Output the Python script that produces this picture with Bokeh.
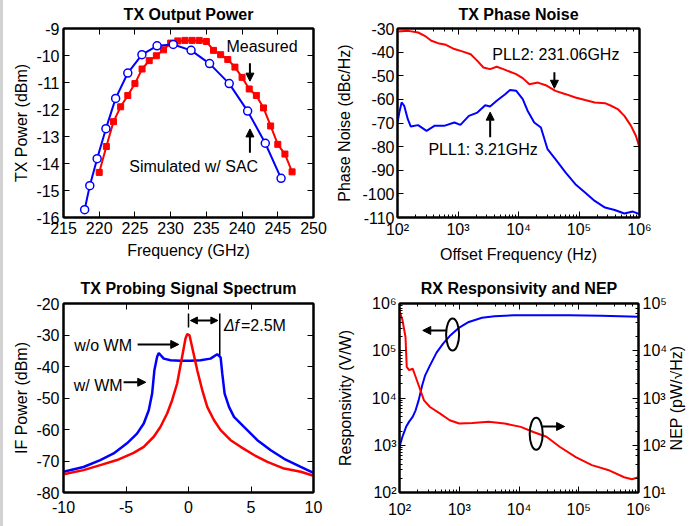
import math
from bokeh.plotting import figure
from bokeh.layouts import column, row
from bokeh.models import (Range1d, LinearAxis, LogAxis, FixedTicker, LogTicker, Label,
                          Arrow, NormalHead, CustomJSTickFormatter, LogScale)
from bokeh.embed import file_html
from bokeh.resources import INLINE

# ---------------- data ----------------
# TX output power
sim_freq = [217.96, 218.68, 219.71, 220.94, 222.30, 224.0, 225.98, 228.1, 230.36,
            232.86, 235.45, 238.2, 240.78, 243.25, 245.46]
sim_power = [-15.71, -14.82, -13.82, -12.71, -11.59, -10.65, -9.97, -9.64, -9.59,
             -9.81, -10.30, -11.04, -12.06, -13.25, -14.55]
meas_freq = [220, 221, 222, 223, 224, 225, 226, 227, 228, 229, 230, 231, 232, 233,
             234, 235, 236, 237, 238, 239, 240, 241, 242, 243, 244, 245, 246, 247]
meas_power = [-14.33, -13.37, -12.45, -11.90, -11.48, -11.04, -10.50, -10.19, -10.01,
              -9.79, -9.54, -9.46, -9.44, -9.44, -9.44, -9.48, -9.81, -9.97, -10.15,
              -10.43, -10.81, -11.24, -11.48, -11.94, -12.61, -13.29, -13.65, -14.31]
p1_xticks = [215, 220, 225, 230, 235, 240, 245, 250]
p1_yticks = [-16, -15, -14, -13, -12, -11, -10, -9]

# TX phase noise
pll2_off = [100, 151, 219, 282, 363, 468, 631, 871, 1175, 1622, 2089, 2630, 3388,
            4365, 5623, 7244, 9120, 11750, 15140, 20890, 28180, 40740, 60260, 87100,
            125900, 182000, 269200, 338800, 436500, 562300, 724400, 871000, 1000000]
pll2_pn = [-31.3, -31.0, -31.7, -33.1, -35.2, -36.2, -36.9, -38.7, -39.7, -40.9,
           -43.7, -46.5, -47.2, -46.2, -47.2, -48.3, -49.3, -51.0, -53.6, -52.9,
           -54.0, -56.4, -57.8, -59.2, -60.3, -61.3, -61.6, -62.7, -64.1, -67.0,
           -71.2, -75.4, -80.4]
pll1_off = [100, 107, 117, 129, 148, 166, 219, 302, 407, 589, 871, 1096, 1514, 2089,
            2818, 3388, 4365, 6026, 7244, 9120, 11750, 14125, 18197, 23442, 30200,
            40738, 60256, 87096, 125893, 181970, 269153, 389045, 562341, 776247, 1000000]
pll1_pn = [-69.8, -65.6, -61.3, -62.7, -68.4, -71.5, -70.9, -73.3, -71.2, -71.2,
           -69.8, -70.8, -67.0, -65.6, -62.5, -63.0, -60.6, -57.8, -56.0, -56.3,
           -59.9, -64.8, -69.8, -71.9, -81.1, -85.3, -91.0, -95.9, -99.4, -103.0,
           -105.8, -106.8, -108.3, -107.5, -108.6]
p2_yticks = [-110, -100, -90, -80, -70, -60, -50, -40, -30]

# TX probing signal spectrum
nowm_f = [-10, -8.4, -7.06, -5.72, -4.39, -3.58, -2.78, -2.25, -1.71, -1.31, -0.91,
          -0.51, -0.24, -0.1, 0.08, 0.29, 0.7, 1.1, 1.5, 2.03, 2.57, 3.37, 4.17, 5.24,
          6.31, 7.65, 8.98, 10]
nowm_p = [-74.2, -72.9, -71.3, -69.7, -67.4, -65.5, -62.3, -59.2, -54.9, -50.7, -45.4,
          -36.9, -31.1, -29.7, -30.1, -33.8, -41.2, -47.5, -52.8, -57.0, -60.2, -63.4,
          -65.5, -68.1, -70.3, -72.4, -73.4, -74.7]
wm_f = [-10, -8.4, -7.06, -5.99, -4.92, -4.12, -3.58, -3.18, -2.91, -2.73, -2.51, -2.38,
        -1.98, -1.44, -0.64, 0.16, 0.96, 1.76, 2.3, 2.57, 2.7, 2.89, 3.24, 3.64, 4.44,
        5.51, 6.58, 7.65, 8.98, 10]
wm_p = [-73.4, -71.9, -69.7, -67.6, -64.4, -61.3, -58.1, -53.9, -48.6, -41.2, -36.9,
        -35.7, -37.5, -38.0, -38.2, -38.2, -38.0, -37.5, -36.1, -37.1, -42.2, -48.6,
        -52.8, -56.0, -59.2, -63.4, -66.6, -69.3, -71.9, -73.8]
p3_xticks = [-10, -5, 0, 5, 10]
p3_yticks = [-80, -70, -60, -50, -40, -30, -20]

# RX responsivity and NEP
resp_f = [100, 112, 129, 145, 166, 186, 209, 240, 269, 324, 417, 537, 692, 1000, 1445,
          2399, 3890, 8318, 19953, 69183, 239883, 1000000]
resp_v = [933, 1514, 2455, 3162, 3981, 5495, 8913, 18621, 30200, 48978, 91201, 141254,
          204174, 309030, 407380, 501187, 537032, 562341, 562341, 562341, 549541, 524807]
nep_f = [100, 112, 126, 132, 145, 166, 186, 209, 257, 324, 479, 692, 1000, 1660, 3090,
         5754, 10715, 17378, 28840, 47863, 89125, 165959, 309030, 575440, 776247, 1000000]
nep_v = [69183, 44668, 19498, 4571, 3890, 4169, 2818, 1862, 891, 646, 468, 339, 288, 295,
         316, 288, 245, 191, 151, 93, 56, 38, 30, 21, 19, 21]

# ---------------- style ----------------
FONT = "Liberation Sans"
BLUE = "#0000ff"
RED = "#ff0000"
FS = "16px"

LOGFMT_CODE = """
const sup = {"0":"\u2070","1":"\u00b9","2":"\u00b2","3":"\u00b3","4":"\u2074",
             "5":"\u2075","6":"\u2076","7":"\u2077","8":"\u2078","9":"\u2079","-":"\u207b"};
const e = Math.round(Math.log10(tick));
return "10" + String(e).split("").map(c => sup[c]).join("");
"""
LINFMT_CODE = "return String(tick);"


def style_axis(ax, labels=True, standoff=4):
    ax.axis_line_color = "black"
    ax.axis_line_width = 2
    ax.major_tick_in = 6
    ax.major_tick_out = 0
    ax.major_tick_line_color = "black"
    ax.major_tick_line_width = 1
    ax.minor_tick_in = 3
    ax.minor_tick_out = 0
    ax.minor_tick_line_color = "black"
    ax.major_label_text_font = FONT
    ax.axis_label_text_font = FONT
    ax.axis_label_text_font_size = FS
    ax.axis_label_text_font_style = "normal"
    ax.axis_label_text_color = "black"
    if labels:
        ax.major_label_text_font_size = FS
        ax.major_label_text_color = "black"
        ax.major_label_standoff = standoff
    else:
        ax.major_label_text_font_size = "1px"
        ax.major_label_text_color = None
        ax.major_label_standoff = 0


def make_fig(w, h, xr, yr, bl, br, bt, bb, title, tstand, xlog=False, ylog=False):
    p = figure(width=w, height=h, x_range=xr, y_range=yr, title=title,
               x_axis_type="log" if xlog else "linear",
               y_axis_type="log" if ylog else "linear",
               output_backend="svg", toolbar_location=None,
               min_border_left=bl, min_border_right=br,
               min_border_top=bt, min_border_bottom=bb)
    p.xgrid.grid_line_color = None
    p.ygrid.grid_line_color = None
    p.outline_line_color = "black"
    p.outline_line_width = 2
    p.background_fill_color = "white"
    p.border_fill_color = "white"
    p.title.text_font = FONT
    p.title.text_font_size = FS
    p.title.text_font_style = "bold"
    p.title.text_color = "black"
    p.title.align = "center"
    p.title.vertical_align = "top"
    p.title.standoff = tstand
    return p


def add_text(p, x, y, text, size=FS, align="center", baseline="middle", angle=0.0,
             style="normal"):
    p.add_layout(Label(x=x, y=y, text=text, text_font=FONT, text_font_size=size,
                       text_align=align, text_baseline=baseline, angle=angle,
                       text_font_style=style, text_color="black"))


def add_arrow(p, x0, y0, x1, y1, both=False, size=8):
    head = NormalHead(size=size, fill_color="black", line_color="black")
    kw = {}
    if both:
        kw["start"] = NormalHead(size=size, fill_color="black", line_color="black")
    p.add_layout(Arrow(x_start=x0, y_start=y0, x_end=x1, y_end=y1, end=head,
                       line_color="black", line_width=2, **kw))


# ---------------- panel 1 ----------------
p1 = make_fig(330, 270, Range1d(215, 250), Range1d(-16, -9), 60, 20, 28, 53,
              "TX Output Power", 7)
p1.below[0].ticker = FixedTicker(ticks=p1_xticks)
p1.left[0].ticker = FixedTicker(ticks=p1_yticks)
p1.below[0].formatter = CustomJSTickFormatter(code=LINFMT_CODE)
p1.left[0].formatter = CustomJSTickFormatter(code=LINFMT_CODE)
p1.add_layout(LinearAxis(ticker=FixedTicker(ticks=p1_xticks)), "above")
p1.add_layout(LinearAxis(ticker=FixedTicker(ticks=p1_yticks)), "right")
for ax in p1.below + p1.left:
    style_axis(ax, True, 4)
for ax in p1.above + p1.right:
    style_axis(ax, False)
for ax in p1.below + p1.left + p1.above + p1.right:
    ax.minor_tick_line_color = None
p1.below[0].axis_label = "Frequency (GHz)"
p1.below[0].axis_label_standoff = 5
p1.left[0].axis_label = "TX Power (dBm)"
p1.left[0].axis_label_standoff = 3

p1.line(meas_freq, meas_power, line_color=RED, line_width=2)
p1.scatter(meas_freq, meas_power, marker="square", size=6, fill_color=RED,
           line_color=RED)
p1.line(sim_freq, sim_power, line_color=BLUE, line_width=2)
p1.scatter(sim_freq, sim_power, marker="circle", size=8, fill_color="white",
           line_color=BLUE, line_width=1.5)

add_text(p1, 242.8, -9.66, "Measured")
add_arrow(p1, 241.1, -10.29, 241.1, -10.95)
add_text(p1, 224.2, -14.1, "Simulated w/ SAC", align="left")
add_arrow(p1, 241.1, -13.6, 241.1, -12.72)

# ---------------- panel 2 ----------------
p2 = make_fig(365, 270, Range1d(1e2, 1e6), Range1d(-110, -30), 59, 59, 28, 53,
              "TX Phase Noise", 7, xlog=True)
p2.left[0].ticker = FixedTicker(ticks=p2_yticks)
p2.left[0].formatter = CustomJSTickFormatter(code=LINFMT_CODE)
p2.below[0].formatter = CustomJSTickFormatter(code=LOGFMT_CODE)
p2.add_layout(LogAxis(ticker=LogTicker()), "above")
p2.add_layout(LinearAxis(ticker=FixedTicker(ticks=p2_yticks)), "right")
for ax in p2.below + p2.left:
    style_axis(ax, True, 3)
for ax in p2.above + p2.right:
    style_axis(ax, False)
for ax in p2.left + p2.right:
    ax.minor_tick_line_color = None
p2.below[0].axis_label = "Offset Frequency (Hz)"
p2.below[0].axis_label_standoff = 5
p2.left[0].axis_label = "Phase Noise (dBc/Hz)"
p2.left[0].axis_label_standoff = 6

p2.line(pll2_off, pll2_pn, line_color=RED, line_width=2)
p2.line(pll1_off, pll1_pn, line_color=BLUE, line_width=2)

add_text(p2, 41400, -41.1, "PLL2: 231.06GHz")
add_arrow(p2, 39200, -48.5, 39200, -55.3)
add_text(p2, 2600, -81.3, "PLL1: 3.21GHz")
add_arrow(p2, 3400, -76, 3400, -65.4)

# ---------------- panel 3 ----------------
p3 = make_fig(330, 256, Range1d(-10, 10), Range1d(-80, -20), 60, 20, 33, 34,
              "TX Probing Signal Spectrum", 9)
p3.below[0].ticker = FixedTicker(ticks=p3_xticks)
p3.left[0].ticker = FixedTicker(ticks=p3_yticks)
p3.below[0].formatter = CustomJSTickFormatter(code=LINFMT_CODE)
p3.left[0].formatter = CustomJSTickFormatter(code=LINFMT_CODE)
p3.add_layout(LinearAxis(ticker=FixedTicker(ticks=p3_xticks)), "above")
p3.add_layout(LinearAxis(ticker=FixedTicker(ticks=p3_yticks)), "right")
for ax in p3.below:
    style_axis(ax, True, 8)
for ax in p3.left:
    style_axis(ax, True, 4)
for ax in p3.above + p3.right:
    style_axis(ax, False)
for ax in p3.below + p3.left + p3.above + p3.right:
    ax.minor_tick_line_color = None
p3.left[0].axis_label = "IF Power (dBm)"
p3.left[0].axis_label_standoff = 3

p3.line(wm_f, wm_p, line_color=BLUE, line_width=2.5)
p3.line(nowm_f, nowm_p, line_color=RED, line_width=2.5)

add_text(p3, 0, -92.1, "f - f\u2080 (MHz, f\u2080=231.06GHz)")
add_text(p3, -6.83, -33.2, "w/o WM")
add_arrow(p3, -4.07, -33.0, -0.78, -33.0)
add_text(p3, -7.23, -45.9, "w/ WM")
add_arrow(p3, -5.19, -45.0, -3.42, -45.0)
p3.segment(x0=[0, 2.5], y0=[-23.2, -23.2], x1=[0, 2.5], y1=[-27.6, -36.5],
           line_color="black", line_width=1.5)
add_arrow(p3, 0.15, -25.4, 2.35, -25.4, both=True, size=7)
add_text(p3, 2.83, -27.1, "\u0394f", align="left", style="italic")
add_text(p3, 4.2, -27.1, "=2.5M", align="left")

# ---------------- panel 4 ----------------
p4 = make_fig(337, 256, Range1d(1e2, 1e6), Range1d(1e2, 1e6), 59, 31, 33, 34,
              "RX Responsivity and NEP", 9, xlog=True, ylog=True)
p4.extra_y_ranges = {"nep": Range1d(1e1, 1e5)}
p4.extra_y_scales = {"nep": LogScale()}
p4.below[0].formatter = CustomJSTickFormatter(code=LOGFMT_CODE)
p4.left[0].formatter = CustomJSTickFormatter(code=LOGFMT_CODE)
p4.add_layout(LogAxis(ticker=LogTicker()), "above")
p4.add_layout(LogAxis(y_range_name="nep",
                      formatter=CustomJSTickFormatter(code=LOGFMT_CODE)), "right")
for ax in p4.below:
    style_axis(ax, True, 8)
for ax in p4.left:
    style_axis(ax, True, 3)
for ax in p4.right:
    style_axis(ax, True, 4)
for ax in p4.above:
    style_axis(ax, False)
p4.left[0].axis_label = "Responsivity (V/W)"
p4.left[0].axis_label_standoff = 15

p4.line(resp_f, resp_v, line_color=BLUE, line_width=2)
p4.line(nep_f, nep_v, line_color=RED, line_width=2, y_range_name="nep")

add_text(p4, 1e4, 10 ** 1.196, "Modulation Frequency f\u2098 (Hz)")
p4.ellipse(x=[774, 19400], y=[221000, 1746], width=13, height=32,
           width_units="screen", height_units="screen",
           fill_color=None, line_color="black", line_width=2)
add_arrow(p4, 603, 269000, 245, 269000)
add_arrow(p4, 24500, 2495, 58000, 2495)

# narrow strip that carries the right-hand NEP axis title (reads bottom to top)
pn = figure(width=28, height=256, x_range=Range1d(0, 1), y_range=Range1d(1e1, 1e5),
            y_axis_type="log", title=None, output_backend="svg",
            toolbar_location=None, min_border_left=19, min_border_right=8,
            min_border_top=33, min_border_bottom=34)
pn.outline_line_color = None
pn.xgrid.grid_line_color = None
pn.ygrid.grid_line_color = None
pn.xaxis.visible = False
pn.background_fill_color = "white"
pn.border_fill_color = "white"
nax = pn.yaxis[0]
nax.axis_line_color = None
nax.major_tick_line_color = None
nax.minor_tick_line_color = None
nax.major_label_text_font_size = "1px"
nax.major_label_text_color = None
nax.major_label_standoff = 0
nax.axis_label = "NEP (pW/\u221aHz)"
nax.axis_label_standoff = 0
nax.axis_label_text_font = FONT
nax.axis_label_text_font_size = FS
nax.axis_label_text_font_style = "normal"
nax.axis_label_text_color = "black"

layout = column(row(p1, p2), row(p3, p4, pn))
html = file_html(layout, INLINE, "chart")
html = html.replace(
    "</head>",
    "<style>body{padding-left:3px !important;"
    "background:linear-gradient(to right,#d2d2d2 0,#d2d2d2 3px,#ffffff 3px) !important;}"
    "</style></head>", 1)
open("out.html", "w").write(html)
